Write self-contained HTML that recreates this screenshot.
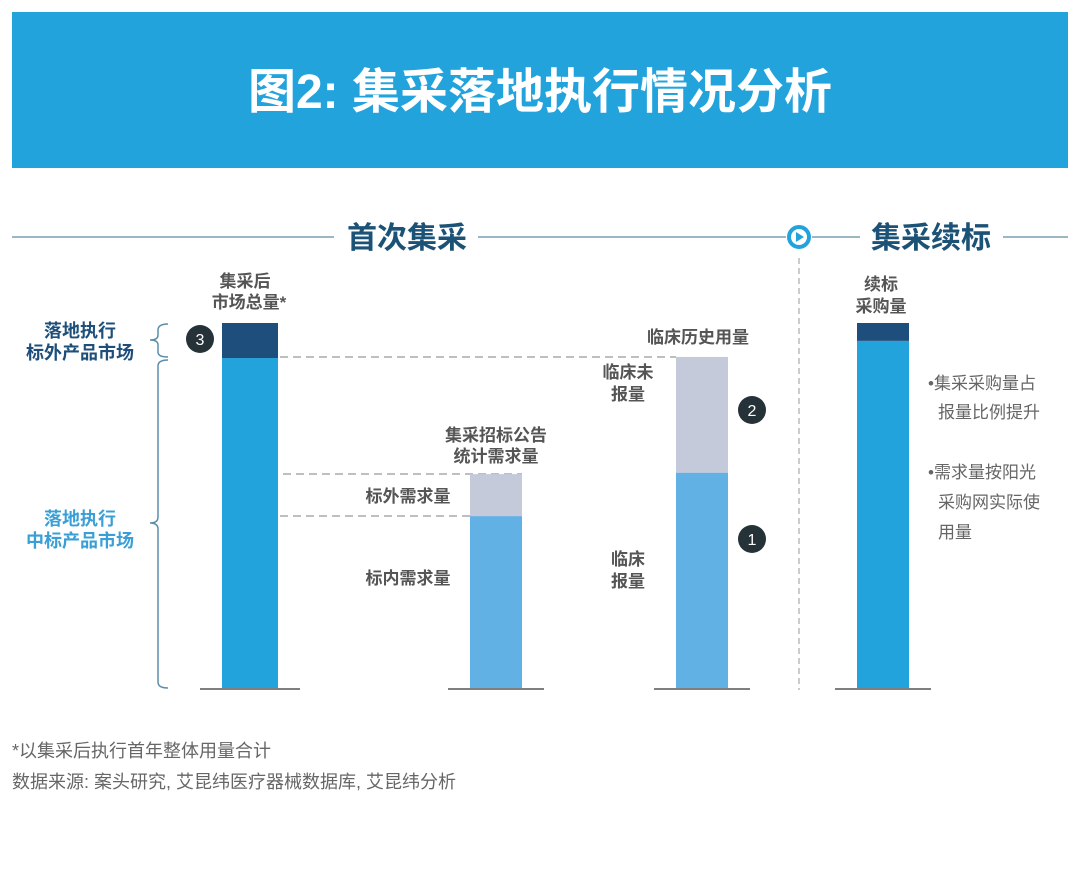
<!DOCTYPE html>
<html><head><meta charset="utf-8">
<style>
body{margin:0;background:#fff;width:1080px;height:865px;overflow:hidden;font-family:"Liberation Sans","Noto Sans CJK SC",sans-serif;}
svg text{font-family:"Liberation Sans","Noto Sans CJK SC",sans-serif;}
</style></head>
<body>
<svg id="chart" width="1080" height="865" viewBox="0 0 1080 865">
  <rect x="12" y="12" width="1056" height="156" fill="#23a3dc"/>
  <text x="540" y="108" text-anchor="middle" font-size="48" font-weight="bold" fill="#fff">图2: 集采落地执行情况分析</text>

  <g stroke="#7d9db0" stroke-width="1.5">
    <line x1="12" y1="237" x2="334" y2="237"/>
    <line x1="478" y1="237" x2="786" y2="237"/>
    <line x1="812" y1="237" x2="860" y2="237"/>
    <line x1="1003" y1="237" x2="1068" y2="237"/>
  </g>
  <text x="407" y="248" text-anchor="middle" font-size="30" font-weight="bold" fill="#1d5277">首次集采</text>
  <text x="931" y="248" text-anchor="middle" font-size="30" font-weight="bold" fill="#1d5277">集采续标</text>
  <g>
    <circle cx="799" cy="237" r="12" fill="#23a3dc"/>
    <circle cx="799" cy="237" r="8" fill="#fff"/>
    <polygon points="796,232 804,237 796,242" fill="#23a3dc"/>
  </g>
  <line x1="799" y1="258" x2="799" y2="690" stroke="#aaa" stroke-width="1.2" stroke-dasharray="6,4"/>

  <g stroke="#aaa" stroke-width="1.5" stroke-dasharray="8,5" fill="none">
    <line x1="280" y1="357" x2="676" y2="357"/>
    <line x1="270" y1="474" x2="522" y2="474"/>
    <line x1="280" y1="516" x2="470" y2="516"/>
  </g>

  <g id="bars"></g>

  <g fill="none" stroke="#5a8ea8" stroke-width="1.5">
    <path d="M168,324 Q158,324 158,330 L158,335 Q158,340 150,340 Q158,340 158,345 L158,352 Q158,357 168,357"/>
  </g>
  <g fill="none" stroke="#5a8ea8" stroke-width="1.5">
    <path d="M168,360 Q158,360 158,366 L158,517 Q158,523 150,523 Q158,523 158,529 L158,682 Q158,688 168,688"/>
  </g>
  <g font-size="18" font-weight="bold" text-anchor="middle">
    <text x="80" y="337" fill="#1d4f7a">落地执行</text>
    <text x="80" y="359" fill="#1d4f7a">标外产品市场</text>
    <text x="80" y="525" fill="#3a9fd6">落地执行</text>
    <text x="80" y="547" fill="#3a9fd6">中标产品市场</text>
  </g>

  <g font-size="17" font-weight="bold" fill="#555" text-anchor="middle">
    <text x="245" y="287">集采后</text>
    <text x="249" y="308">市场总量*</text>
    <text x="496" y="441">集采招标公告</text>
    <text x="496" y="462">统计需求量</text>
    <text x="408" y="502">标外需求量</text>
    <text x="408" y="584">标内需求量</text>
    <text x="698" y="343">临床历史用量</text>
    <text x="628" y="378">临床未</text>
    <text x="628" y="400">报量</text>
    <text x="628" y="565">临床</text>
    <text x="628" y="587">报量</text>
    <text x="881" y="290">续标</text>
    <text x="881" y="312">采购量</text>
  </g>

  <g>
    <circle cx="200" cy="339" r="14" fill="#253238"/><text x="200" y="345" text-anchor="middle" font-size="16" fill="#fff">3</text>
    <circle cx="752" cy="410" r="14" fill="#253238"/><text x="752" y="416" text-anchor="middle" font-size="16" fill="#fff">2</text>
    <circle cx="752" cy="539" r="14" fill="#253238"/><text x="752" y="545" text-anchor="middle" font-size="16" fill="#fff">1</text>
  </g>

  <g font-size="17" fill="#666">
    <text x="928" y="389">•集采采购量占</text>
    <text x="938" y="418">报量比例提升</text>
    <text x="928" y="478">•需求量按阳光</text>
    <text x="938" y="508">采购网实际使</text>
    <text x="938" y="538">用量</text>
  </g>

  <text x="12" y="757" font-size="18" fill="#666">*以集采后执行首年整体用量合计</text>
  <text x="12" y="788" font-size="18" fill="#666">数据来源: 案头研究, 艾昆纬医疗器械数据库, 艾昆纬分析</text>
</svg>
<script>
const categories = ["集采后市场总量", "集采招标公告统计需求量", "临床历史用量", "续标采购量"];
const lowerValues = [90.4, 47.1, 59.0, 95.1];
const upperValues = [9.6, 11.5, 31.7, 4.9];
const lowerColors = ["#22a3dc", "#62b1e4", "#62b1e4", "#22a3dc"];
const upperColors = ["#1e4f7c", "#c5cadb", "#c5cadb", "#1e4f7c"];
const barLeft = [222, 470, 676, 857];
const barWidth = [56, 52, 52, 52];
const base = 688;
function y(v){ return base - v * 3.65; }
const g = document.getElementById('bars');
const ns = 'http://www.w3.org/2000/svg';
categories.forEach((c, i) => {
  const lo = document.createElementNS(ns, 'rect');
  lo.setAttribute('x', barLeft[i]); lo.setAttribute('width', barWidth[i]);
  lo.setAttribute('y', y(lowerValues[i])); lo.setAttribute('height', base - y(lowerValues[i]));
  lo.setAttribute('fill', lowerColors[i]);
  
  
  g.appendChild(lo);
  const up = document.createElementNS(ns, 'rect');
  const tot = lowerValues[i] + upperValues[i];
  up.setAttribute('x', barLeft[i]); up.setAttribute('width', barWidth[i]);
  up.setAttribute('y', y(tot)); up.setAttribute('height', y(lowerValues[i]) - y(tot));
  up.setAttribute('fill', upperColors[i]);
  
  
  g.appendChild(up);
  const bl = document.createElementNS(ns, 'line');
  bl.setAttribute('x1', barLeft[i] - 22); bl.setAttribute('x2', barLeft[i] + barWidth[i] + 22);
  bl.setAttribute('y1', base + 1); bl.setAttribute('y2', base + 1);
  bl.setAttribute('stroke', '#555'); bl.setAttribute('stroke-width', '1.5');
  
  
  g.appendChild(bl);
});
</script>
</body></html>
